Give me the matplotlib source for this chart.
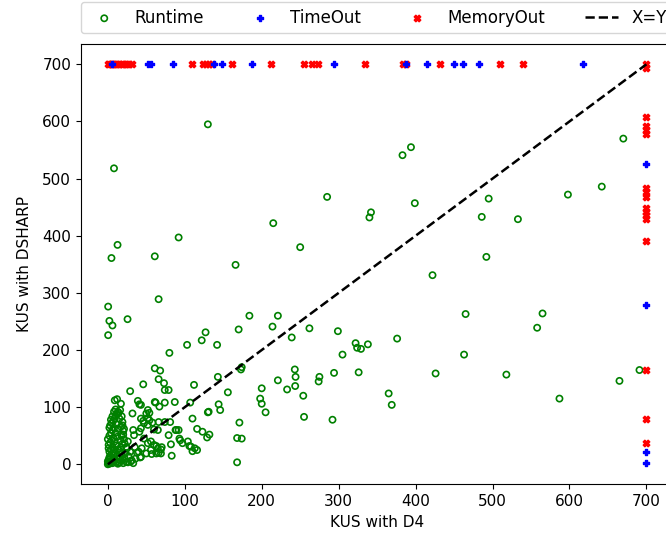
import matplotlib
matplotlib.use("Agg")
import matplotlib.pyplot as plt
import numpy as np

# KUS with D4 (x) vs KUS with DSHARP (y); 700 = timeout / memory out cap
runtime_sparse = [
    (130, 595), (8, 518), (285, 468), (215, 422), (342, 441), (340, 432),
    (92, 397), (12.6, 384), (4.7, 361), (61, 364), (250, 380), (166, 349),
    (0.4, 276), (66, 289), (394, 555), (383, 541), (399, 457), (642, 486),
    (598, 472), (495, 465), (486, 433), (533, 429), (492, 363), (422, 331),
    (465, 263), (565, 264), (558, 239), (262, 238), (239, 222), (299, 233),
    (376, 220), (322, 212), (324, 204), (329, 202), (338, 210), (305, 192),
    (463, 192), (243, 166), (244, 153), (243.5, 137), (275, 153), (274, 145),
    (294, 160), (326, 161), (426, 159), (518, 157), (233, 131), (254, 120),
    (365, 124), (369, 104), (255, 83), (292, 78), (587, 115), (670, 570),
    (691, 165), (665, 146),
]

runtime_mid = [
    (2, 251), (6, 243), (0.4, 226), (25.6, 254), (184, 260), (221, 260),
    (214, 241), (170, 236), (127, 231), (122, 217), (142, 209), (103, 209),
    (80, 195), (173, 166), (174, 170), (61, 168), (68, 164), (66, 149),
    (73, 142), (46, 140), (29, 128), (74, 130), (79, 130), (112, 139),
    (143, 153), (156, 126), (200, 133), (198, 115), (200, 106), (221, 147),
    (205, 91), (87, 109), (61, 109), (67, 101), (39, 111), (41, 105),
    (52, 95), (12, 114), (17, 106), (32, 89), (107, 108), (144, 105),
    (146, 95), (130, 91), (131, 92), (110, 80), (89, 60), (116, 62),
    (123, 57), (132, 52), (129, 47), (79, 51), (93, 45), (97, 37),
    (106, 32), (110, 23), (116, 25), (82, 35), (83, 15), (168, 46),
    (174, 45), (171, 73), (168, 3.5), (57, 18), (66, 20), (63, 32),
    (70, 30), (26, 3.5), (9, 112), (43, 104), (62, 108), (74, 108),
    (50, 89), (54, 90), (43, 80), (46, 76), (52, 81), (54, 77), (58, 73),
    (47, 72), (52, 69), (66, 74), (74, 74), (81, 74), (33, 60), (34, 51),
    (41, 57), (43, 63), (60, 61), (65, 60), (47, 45), (52, 37), (56, 40),
    (88, 60), (92, 60), (94, 42), (104, 40), (108, 31), (113, 28),
    (65, 28), (69, 26), (60, 34), (56, 25), (63, 19), (69, 19), (50, 19),
    (43, 13), (36, 10), (31, 7), (40, 22), (42, 12), (44, 28),
]

runtime_cluster = [
    (0, 0), (1, 2), (2, 1), (3, 4), (0, 5), (1, 8), (2, 12), (4, 3), (5, 6),
    (6, 2), (7, 9), (8, 5), (3, 15), (5, 18), (2, 22), (4, 26), (6, 30),
    (1, 34), (3, 38), (5, 42), (7, 46), (2, 50), (4, 55), (6, 60), (8, 64),
    (3, 68), (5, 72), (7, 76), (9, 80), (10, 85), (12, 88), (8, 92), (14, 90),
    (11, 70), (13, 62), (10, 55), (12, 48), (9, 40), (11, 33), (13, 26),
    (10, 20), (12, 14), (14, 8), (15, 3), (17, 6), (16, 12), (18, 18),
    (15, 24), (17, 30), (19, 36), (16, 42), (18, 50), (20, 58), (17, 66),
    (19, 74), (15, 80), (18, 84), (22, 10), (24, 4), (20, 2), (23, 20),
    (25, 28), (22, 36), (21, 44), (20, 52), (21, 62), (19, 68), (6, 84),
    (4, 78), (2, 64), (0, 44), (1, 28), (9, 26), (7, 16), (11, 4), (13, 1),
    (19, 8), (27, 14), (29, 22), (26, 40), (24, 30), (30, 5), (33, 2),
    (35, 30), (38, 20), (16, 95), (10, 96), (13, 92),
]

timeout_x = [6, 52, 56, 85, 138, 148, 188, 294, 388, 415, 450, 462, 482, 617,
             700, 700, 700, 700]
timeout_y = [700] * 14 + [525, 279, 22, 2]

memout_x = [0, 2, 4, 6, 8, 10, 12, 15, 18, 20, 22, 25, 28, 31, 109, 124, 128,
            132, 135, 162, 212, 255, 265, 273, 334, 384, 388, 432, 510, 540,
            700, 700, 700, 700, 700, 700, 700, 700, 700, 700, 700, 700, 700,
            700, 700, 700, 700]
memout_y = [700] * 30 + [700, 693, 608, 592, 585, 578, 484, 477, 468, 448,
                         442, 436, 429, 390, 165, 80, 38]

runtime = runtime_sparse + runtime_mid + runtime_cluster
rx, ry = zip(*runtime)

fig = plt.figure(figsize=(6.66, 5.38), dpi=100)
ax = fig.add_axes([0.1215, 0.0998, 0.8895, 0.8178])

ax.scatter(rx, ry, s=20, facecolors="none", edgecolors="green",
           linewidths=1.2, label="Runtime")
ax.scatter(timeout_x, timeout_y, s=18, marker="P", color="blue",
           label="TimeOut", zorder=3)
ax.scatter(memout_x, memout_y, s=22, marker="X", color="red",
           label="MemoryOut")
ax.plot([0, 700], [0, 700], "k--", linewidth=1.8, label="X=Y")

ax.set_xticks(np.arange(0, 701, 100))
ax.set_yticks(np.arange(0, 701, 100))
ax.set_xlim(-35, 735)
ax.set_ylim(-35, 735)
ax.tick_params(labelsize=11)
ax.set_xlabel("KUS with D4", fontsize=11)
ax.set_ylabel("KUS with DSHARP", fontsize=11, labelpad=7)

ax.legend(bbox_to_anchor=(0, 1.025, 1, 0.102), loc="lower left", ncol=4,
          mode="expand", borderaxespad=0, fontsize=12)

fig.savefig("out.png", dpi=100)
